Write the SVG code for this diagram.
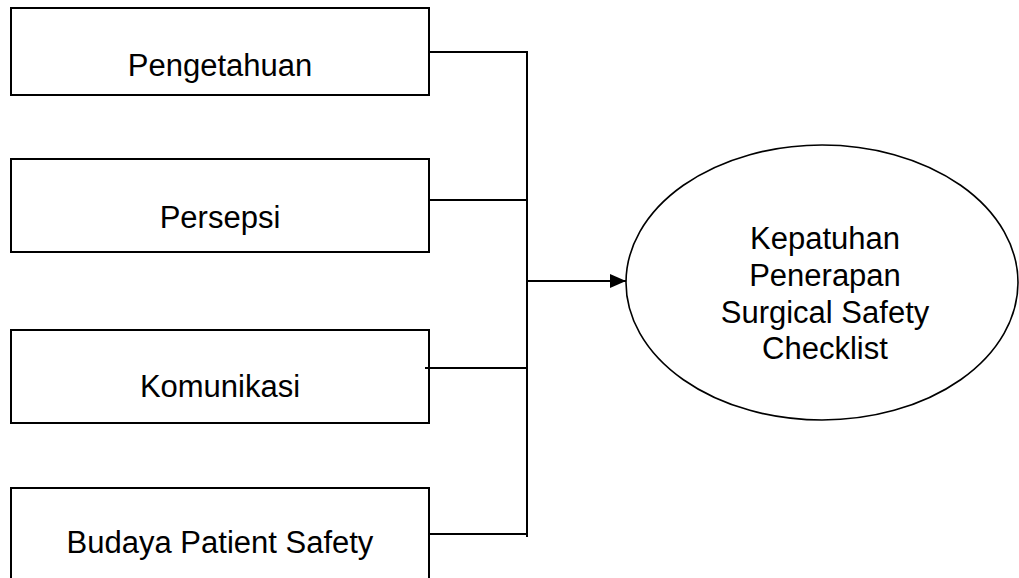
<svg xmlns="http://www.w3.org/2000/svg" width="1019" height="578" viewBox="0 0 1019 578">
<style>
.box{fill:#fff;stroke:#000;stroke-width:2}
.lbl{font-family:"Liberation Sans",Arial,sans-serif;font-size:31px;fill:#000;text-anchor:middle}
.conn{stroke:#000;stroke-width:2;fill:none}
</style>
<defs>
<marker id="arr" markerWidth="16" markerHeight="14" refX="16" refY="7" orient="auto" markerUnits="userSpaceOnUse">
<path d="M0,0 L16,7 L0,14 Z" fill="#000"/>
</marker>
</defs>
<rect width="1019" height="578" fill="#fff"/>
<g id="node-pengetahuan">
<rect class="box" x="11" y="8" width="418" height="87"/>
<text class="lbl" x="220" y="76">Pengetahuan</text>
</g>
<g id="node-persepsi">
<rect class="box" x="11" y="159" width="418" height="93"/>
<text class="lbl" x="220" y="228">Persepsi</text>
</g>
<g id="node-komunikasi">
<rect class="box" x="11" y="330" width="418" height="93"/>
<text class="lbl" x="220" y="397">Komunikasi</text>
</g>
<g id="node-budaya">
<rect class="box" x="11" y="488" width="418" height="110"/>
<text class="lbl" x="220" y="553">Budaya Patient Safety</text>
</g>
<g id="node-kepatuhan">
<ellipse cx="822" cy="282.5" rx="196" ry="137.5" fill="#fff" stroke="#000" stroke-width="1.6"/>
<text class="lbl" x="825" y="249">Kepatuhan</text>
<text class="lbl" x="825" y="286">Penerapan</text>
<text class="lbl" x="825" y="323">Surgical Safety</text>
<text class="lbl" x="825" y="359">Checklist</text>
</g>
<g id="connectors">
<polyline class="conn" points="429,52 527,52 527,537"/>
<line class="conn" x1="429" y1="200" x2="527" y2="200"/>
<line class="conn" x1="425" y1="368" x2="526" y2="368"/>
<line class="conn" x1="429" y1="534" x2="527" y2="534"/>
<line class="conn" x1="527" y1="281" x2="626" y2="281" marker-end="url(#arr)"/>
</g>
</svg>
